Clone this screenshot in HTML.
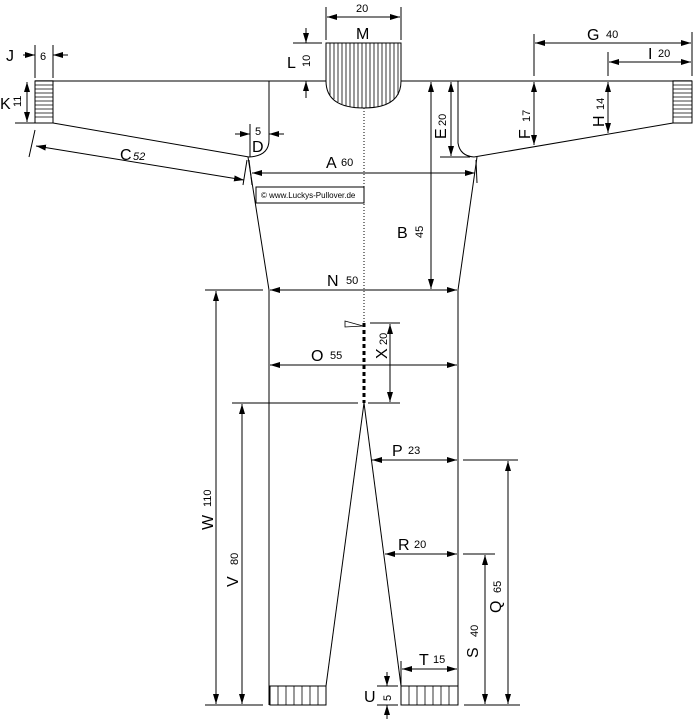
<!DOCTYPE html>
<html><head><meta charset="utf-8"><style>
html,body{margin:0;padding:0;background:#fff;width:693px;height:722px;overflow:hidden}
svg{display:block}
text{font-family:"Liberation Sans",Arial,sans-serif;fill:#000}
.L{font-size:16px}.s{font-size:11px}
</style></head><body>
<svg width="693" height="722" viewBox="0 0 693 722" xmlns="http://www.w3.org/2000/svg">
<defs>
<marker id="a" viewBox="0 0 10 6" refX="10" refY="3" markerWidth="10" markerHeight="6" markerUnits="userSpaceOnUse" orient="auto-start-reverse"><path d="M0,0L10,3L0,6z" fill="#000"/></marker>
</defs>
<g stroke="#000" stroke-width="1" fill="none">
<!-- top shoulder line -->
<line x1="35" y1="81" x2="692" y2="81" stroke="#555" stroke-width="1.5"/>
<!-- left cuff -->
<rect x="35" y="81" width="18" height="42" fill="#fff"/>
<g stroke-width="0.8">
<line x1="35" y1="85" x2="53" y2="85"/><line x1="35" y1="89" x2="53" y2="89"/><line x1="35" y1="93" x2="53" y2="93"/><line x1="35" y1="97" x2="53" y2="97"/><line x1="35" y1="101" x2="53" y2="101"/><line x1="35" y1="105" x2="53" y2="105"/><line x1="35" y1="109" x2="53" y2="109"/><line x1="35" y1="113" x2="53" y2="113"/><line x1="35" y1="117" x2="53" y2="117"/>
</g>
<!-- right cuff -->
<rect x="673" y="81" width="19" height="42" fill="#fff"/>
<g stroke-width="0.8">
<line x1="673" y1="85" x2="692" y2="85"/><line x1="673" y1="89" x2="692" y2="89"/><line x1="673" y1="93" x2="692" y2="93"/><line x1="673" y1="97" x2="692" y2="97"/><line x1="673" y1="101" x2="692" y2="101"/><line x1="673" y1="105" x2="692" y2="105"/><line x1="673" y1="109" x2="692" y2="109"/><line x1="673" y1="113" x2="692" y2="113"/><line x1="673" y1="117" x2="692" y2="117"/>
</g>
<!-- sleeves -->
<line x1="53" y1="123" x2="249" y2="157"/>
<line x1="474" y1="157" x2="673" y2="123"/>
<path d="M269,81 L269,140 Q269,156 249,157"/>
<path d="M458,81 L458,143 Q460,156 474,157"/>
<!-- body -->
<line x1="248" y1="157" x2="269" y2="290"/>
<line x1="477" y1="157" x2="458" y2="290"/>
<line x1="269" y1="290" x2="269" y2="705"/>
<line x1="458" y1="290" x2="458" y2="705"/>
<line x1="364" y1="403" x2="326" y2="686"/>
<line x1="364" y1="403" x2="401" y2="686"/>
<!-- leg cuffs -->
<rect x="270" y="686" width="56" height="19"/>
<rect x="401" y="686" width="57" height="19"/>
<g stroke-width="0.8">
<line x1="278" y1="686" x2="278" y2="705"/><line x1="286" y1="686" x2="286" y2="705"/><line x1="294" y1="686" x2="294" y2="705"/><line x1="302" y1="686" x2="302" y2="705"/><line x1="310" y1="686" x2="310" y2="705"/><line x1="318" y1="686" x2="318" y2="705"/>
<line x1="409" y1="686" x2="409" y2="705"/><line x1="417" y1="686" x2="417" y2="705"/><line x1="425" y1="686" x2="425" y2="705"/><line x1="433" y1="686" x2="433" y2="705"/><line x1="441" y1="686" x2="441" y2="705"/><line x1="449" y1="686" x2="449" y2="705"/>
</g>
<!-- collar -->
<path d="M326,43 L401,43 L401,81 Q401,108 364,108 Q326,108 326,81 Z" fill="#fff"/>
<g stroke-width="0.8">
<line x1="330" y1="43" x2="330" y2="95"/><line x1="334" y1="43" x2="334" y2="99"/><line x1="338" y1="43" x2="338" y2="102"/><line x1="342" y1="43" x2="342" y2="104"/><line x1="346" y1="43" x2="346" y2="106"/><line x1="350" y1="43" x2="350" y2="107"/><line x1="354" y1="43" x2="354" y2="107"/><line x1="358" y1="43" x2="358" y2="108"/><line x1="362" y1="43" x2="362" y2="108"/><line x1="366" y1="43" x2="366" y2="108"/><line x1="370" y1="43" x2="370" y2="108"/><line x1="374" y1="43" x2="374" y2="107"/><line x1="378" y1="43" x2="378" y2="107"/><line x1="382" y1="43" x2="382" y2="106"/><line x1="386" y1="43" x2="386" y2="104"/><line x1="390" y1="43" x2="390" y2="102"/><line x1="394" y1="43" x2="394" y2="99"/><line x1="398" y1="43" x2="398" y2="95"/>
</g>
<!-- center dotted -->
<line x1="364" y1="108" x2="364" y2="322" stroke-dasharray="1,2"/>
<line x1="364" y1="323" x2="364" y2="403" stroke-width="3" stroke-dasharray="4,3"/>
<path d="M345,321 L345,327 L363,326 Z" stroke-width="0.8"/>
<!-- copyright box -->
<rect x="256" y="187" width="108" height="16" fill="#fff"/>

<!-- dimensions -->
<!-- M -->
<line x1="326" y1="7" x2="326" y2="40"/><line x1="401" y1="7" x2="401" y2="40"/>
<line x1="327" y1="17" x2="400" y2="17" marker-start="url(#a)" marker-end="url(#a)"/>
<!-- L -->
<line x1="306" y1="28" x2="306" y2="43" marker-end="url(#a)"/>
<line x1="306" y1="98" x2="306" y2="81" marker-end="url(#a)"/>
<line x1="293" y1="43" x2="322" y2="43"/>
<!-- J -->
<line x1="35" y1="45" x2="35" y2="78"/><line x1="53" y1="45" x2="53" y2="78"/>
<line x1="23" y1="55" x2="35" y2="55" marker-end="url(#a)"/>
<line x1="68" y1="55" x2="53" y2="55" marker-end="url(#a)"/>
<!-- K -->
<line x1="15" y1="123" x2="35" y2="123"/>
<line x1="27" y1="82" x2="27" y2="122" marker-start="url(#a)" marker-end="url(#a)"/>
<!-- C -->
<line x1="36" y1="146" x2="244" y2="180" marker-start="url(#a)" marker-end="url(#a)"/>
<line x1="35" y1="130" x2="29" y2="157"/>
<line x1="247" y1="160" x2="243" y2="185"/>
<line x1="249" y1="160" x2="252" y2="185"/>
<!-- D -->
<line x1="250" y1="124" x2="250" y2="157"/>
<line x1="235" y1="134" x2="250" y2="134" marker-end="url(#a)"/>
<line x1="284" y1="134" x2="269" y2="134" marker-end="url(#a)"/>
<!-- A -->
<line x1="252" y1="173" x2="475" y2="173" marker-start="url(#a)" marker-end="url(#a)"/>
<line x1="476" y1="160" x2="477" y2="183"/>
<!-- B -->
<line x1="431" y1="82" x2="431" y2="289" marker-start="url(#a)" marker-end="url(#a)"/>
<!-- E -->
<line x1="451" y1="82" x2="451" y2="156" marker-start="url(#a)" marker-end="url(#a)"/>
<line x1="440" y1="157" x2="470" y2="157"/>
<!-- F -->
<line x1="534" y1="82" x2="534" y2="145" marker-start="url(#a)" marker-end="url(#a)"/>
<!-- H -->
<line x1="608" y1="82" x2="608" y2="133" marker-start="url(#a)" marker-end="url(#a)"/>
<!-- G -->
<line x1="534" y1="34" x2="534" y2="76"/><line x1="692" y1="32" x2="692" y2="76"/>
<line x1="535" y1="43" x2="691" y2="43" marker-start="url(#a)" marker-end="url(#a)"/>
<!-- I -->
<line x1="608" y1="52" x2="608" y2="76"/>
<line x1="609" y1="62" x2="691" y2="62" marker-start="url(#a)" marker-end="url(#a)"/>
<!-- N -->
<line x1="270" y1="290" x2="457" y2="290" marker-start="url(#a)" marker-end="url(#a)"/>
<line x1="205" y1="290" x2="263" y2="290"/>
<!-- O -->
<line x1="270" y1="365" x2="457" y2="365" marker-start="url(#a)" marker-end="url(#a)"/>
<!-- X -->
<line x1="370" y1="323" x2="400" y2="323"/><line x1="368" y1="403" x2="400" y2="403"/>
<line x1="390" y1="324" x2="390" y2="402" marker-start="url(#a)" marker-end="url(#a)"/>
<!-- V -->
<line x1="232" y1="403" x2="358" y2="403"/>
<line x1="242" y1="404" x2="242" y2="704" marker-start="url(#a)" marker-end="url(#a)"/>
<!-- W -->
<line x1="216" y1="291" x2="216" y2="704" marker-start="url(#a)" marker-end="url(#a)"/>
<line x1="205" y1="705" x2="263" y2="705"/>
<!-- P -->
<line x1="372" y1="460" x2="457" y2="460" marker-start="url(#a)" marker-end="url(#a)"/>
<line x1="463" y1="460" x2="518" y2="460"/>
<!-- Q -->
<line x1="508" y1="461" x2="508" y2="704" marker-start="url(#a)" marker-end="url(#a)"/>
<!-- R -->
<line x1="385" y1="554" x2="457" y2="554" marker-start="url(#a)" marker-end="url(#a)"/>
<line x1="463" y1="554" x2="495" y2="554"/>
<!-- S -->
<line x1="485" y1="555" x2="485" y2="704" marker-start="url(#a)" marker-end="url(#a)"/>
<line x1="464" y1="705" x2="520" y2="705"/>
<!-- T -->
<line x1="401" y1="661" x2="401" y2="686"/>
<line x1="402" y1="669" x2="457" y2="669" marker-start="url(#a)" marker-end="url(#a)"/>
<!-- U -->
<line x1="387" y1="672" x2="387" y2="686" marker-end="url(#a)"/>
<line x1="387" y1="719" x2="387" y2="705" marker-end="url(#a)"/>
<line x1="377" y1="686" x2="398" y2="686"/><line x1="377" y1="705" x2="398" y2="705"/>
</g>

<!-- labels -->
<text class="s" x="356" y="12">20</text>
<text class="L" x="356" y="39">M</text>
<text class="L" x="287" y="68">L</text>
<text class="s" transform="translate(310,67) rotate(-90)">10</text>
<text class="L" x="6" y="61">J</text>
<text class="s" x="40" y="60">6</text>
<text class="L" x="0" y="109">K</text>
<text class="s" transform="translate(21,107) rotate(-90)">11</text>
<text class="L" x="120" y="160">C</text><text class="s" x="133" y="160" font-style="italic">52</text>
<text class="s" x="255" y="135">5</text>
<text class="L" x="252" y="152">D</text>
<text class="L" x="326" y="168">A</text><text class="s" x="341" y="166">60</text>
<text x="261" y="198" style="font-size:8px">© www.Luckys-Pullover.de</text>
<text class="L" x="397" y="238">B</text>
<text class="s" transform="translate(423,238) rotate(-90)">45</text>
<text class="L" transform="translate(446,139) rotate(-90)">E</text>
<text class="s" transform="translate(446,126) rotate(-90)">20</text>
<text class="L" transform="translate(530,139) rotate(-90)">F</text>
<text class="s" transform="translate(530,122) rotate(-90)">17</text>
<text class="L" transform="translate(604,127) rotate(-90)">H</text>
<text class="s" transform="translate(604,110) rotate(-90)">14</text>
<text class="L" x="587" y="40">G</text><text class="s" x="606" y="38">40</text>
<text class="L" x="648" y="59">I</text><text class="s" x="658" y="57">20</text>
<text class="L" x="327" y="286">N</text><text class="s" x="346" y="284">50</text>
<text class="L" x="311" y="361">O</text><text class="s" x="330" y="359">55</text>
<text class="L" transform="translate(387,359) rotate(-90)">X</text>
<text class="s" transform="translate(387,345) rotate(-90)">20</text>
<text class="L" transform="translate(213,530) rotate(-90)">W</text>
<text class="s" transform="translate(211,507) rotate(-90)">110</text>
<text class="L" transform="translate(238,587) rotate(-90)">V</text>
<text class="s" transform="translate(238,565) rotate(-90)">80</text>
<text class="L" x="392" y="456">P</text><text class="s" x="408" y="454">23</text>
<text class="L" transform="translate(501,613) rotate(-90)">Q</text>
<text class="s" transform="translate(501,593) rotate(-90)">65</text>
<text class="L" x="398" y="550">R</text><text class="s" x="414" y="548">20</text>
<text class="L" transform="translate(478,658) rotate(-90)">S</text>
<text class="s" transform="translate(478,637) rotate(-90)">40</text>
<text class="L" x="419" y="665">T</text><text class="s" x="433" y="663">15</text>
<text class="L" x="364" y="702">U</text>
<text class="s" transform="translate(391,701) rotate(-90)">5</text>
</svg>
</body></html>
